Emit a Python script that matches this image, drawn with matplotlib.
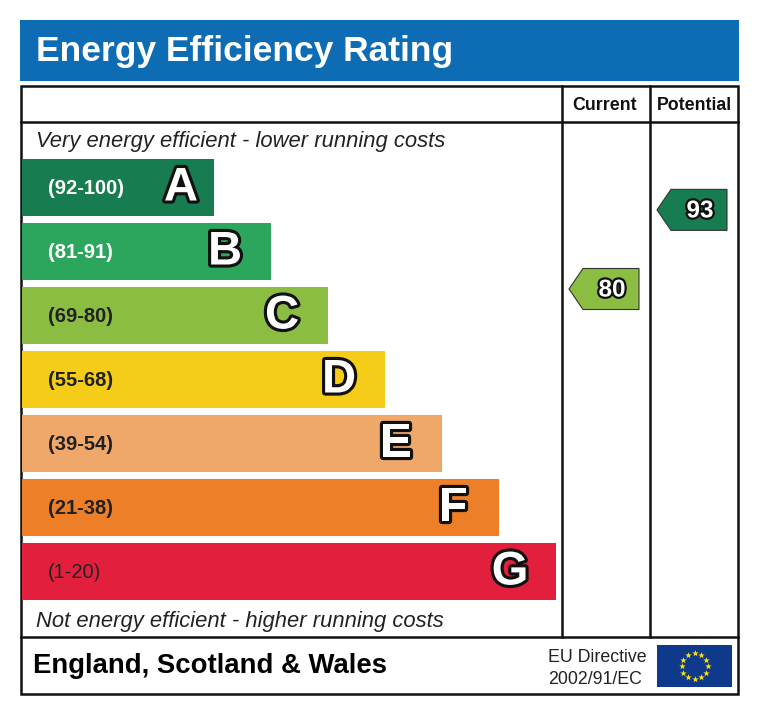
import matplotlib
matplotlib.use("Agg")
import matplotlib.pyplot as plt
from matplotlib import font_manager
from matplotlib.patches import Rectangle, Polygon
import matplotlib.patheffects as pe
import numpy as np

# rating bands, best to worst
letters = ['A', 'B', 'C', 'D', 'E', 'F', 'G']
band_low = [92, 81, 69, 55, 39, 21, 1]
band_high = [100, 91, 80, 68, 54, 38, 20]
band_colors = ['#177d50', '#2ca55d', '#8cbd43', '#f5cc17', '#f0a86a', '#ec7f28', '#e21f3c']
range_text_colors = ['white', 'white', '#222222', '#222222', '#222222', '#222222', '#222222']

current_rating = 80
potential_rating = 93

title = 'Energy Efficiency Rating'
top_note = 'Very energy efficient - lower running costs'
bottom_note = 'Not energy efficient - higher running costs'
region = 'England, Scotland & Wales'
directive = ['EU Directive', '2002/91/EC']

# pick a narrow sans if there is one
names = set(f.name for f in font_manager.fontManager.ttflist)
narrow = 'Liberation Sans Narrow' if 'Liberation Sans Narrow' in names else 'Liberation Sans'
plain = 'Liberation Sans'

fig = plt.figure(figsize=(7.6, 7.15), dpi=100)
ax = fig.add_axes([0, 0, 1, 1])
ax.set_xlim(0, 760)
ax.set_ylim(715, 0)
ax.axis('off')

# blue header
ax.add_patch(Rectangle((20, 20), 719, 61, color='#0e6cb5', lw=0))
ax.text(36, 51, title, color='white', fontsize=25.5, fontweight='bold',
        family=narrow, va='center', ha='left')

# table frame
lw = 1.8
ax.add_patch(Rectangle((21, 86), 717, 608, fill=False, ec='#111111', lw=lw))
ax.plot([21, 738], [122, 122], color='#111111', lw=lw)
ax.plot([21, 738], [637, 637], color='#111111', lw=lw)
ax.plot([562, 562], [86, 637], color='#111111', lw=lw)
ax.plot([650, 650], [86, 637], color='#111111', lw=lw)

ax.text(604.5, 106, 'Current', fontsize=12.8, fontweight='bold', family=narrow,
        ha='center', va='center', color='#111111')
ax.text(694, 106, 'Potential', fontsize=12.8, fontweight='bold', family=narrow,
        ha='center', va='center', color='#111111')

ax.text(36, 141, top_note, fontsize=15.8, style='italic', family=narrow,
        ha='left', va='center', color='#222222')
ax.text(36, 621, bottom_note, fontsize=15.8, style='italic', family=narrow,
        ha='left', va='center', color='#222222')

# bands
band_top0 = 159
band_h = 57
pitch = 64
outline = [pe.withStroke(linewidth=4.5, foreground='#111111')]
band_tops = []
for i, letter in enumerate(letters):
    top = band_top0 + i * pitch
    right = 214 + i * 57
    band_tops.append(top)
    ax.add_patch(Rectangle((22, top), right - 22, band_h, color=band_colors[i], lw=0))
    ax.text(48, top + band_h / 2 + 1, '(%d-%d)' % (band_low[i], band_high[i]),
            fontsize=14.5, fontweight='bold' if letter != 'G' else 'normal',
            family=plain, color=range_text_colors[i], ha='left', va='center')
    cx = right - 33 if letter == 'A' else right - 46
    ax.text(cx, top + band_h / 2 + 1, letter, fontsize=34, fontweight='bold',
            family=plain, color='white', ha='center', va='center', path_effects=outline)


def rating_y(value):
    for i in range(len(letters)):
        if band_low[i] <= value <= band_high[i]:
            frac = (band_high[i] - value) / (band_high[i] - band_low[i])
            return band_tops[i] + frac * band_h
    return band_tops[-1]


def band_color(value):
    for i in range(len(letters)):
        if band_low[i] <= value <= band_high[i]:
            return band_colors[i]
    return band_colors[-1]


def draw_arrow(col_left, value):
    yc = rating_y(value) + 1
    # keep the marker clear of the band's top edge
    yc = max(yc, band_tops[0] + 21)
    i = [k for k in range(len(letters)) if band_low[k] <= value <= band_high[k]][0]
    yc = max(yc, band_tops[i] + 2)
    half = 20.5
    tip = col_left + 7
    x0 = col_left + 21
    x1 = col_left + 77
    pts = [(tip, yc), (x0, yc - half), (x1, yc - half), (x1, yc + half), (x0, yc + half)]
    ax.add_patch(Polygon(pts, closed=True, fc=band_color(value), ec='#333333', lw=0.8))
    ax.text((x0 + x1) / 2 + 1, yc + 1, str(value), fontsize=17.5, fontweight='bold',
            family=plain, color='white', ha='center', va='center',
            path_effects=[pe.withStroke(linewidth=3.2, foreground='#111111')])


draw_arrow(562, current_rating)
draw_arrow(650, potential_rating)

# footer
ax.text(33, 666, region, fontsize=19.8, fontweight='bold', family=plain,
        ha='left', va='center', color='black')
ax.text(548, 658, directive[0], fontsize=12.8, family=narrow, ha='left', va='center', color='#222222')
ax.text(548, 679, directive[1], fontsize=12.8, family=narrow, ha='left', va='center', color='#222222')

# EU flag
ax.add_patch(Rectangle((657, 645), 75, 42, color='#0f3a8c', lw=0))
ang = np.arange(12) * np.pi / 6
ax.scatter(694.5 + 13 * np.cos(ang), 666 + 13 * np.sin(ang), marker='*', s=24,
           color='#ffe500', lw=0, zorder=5)

fig.savefig('out.png', dpi=100)
